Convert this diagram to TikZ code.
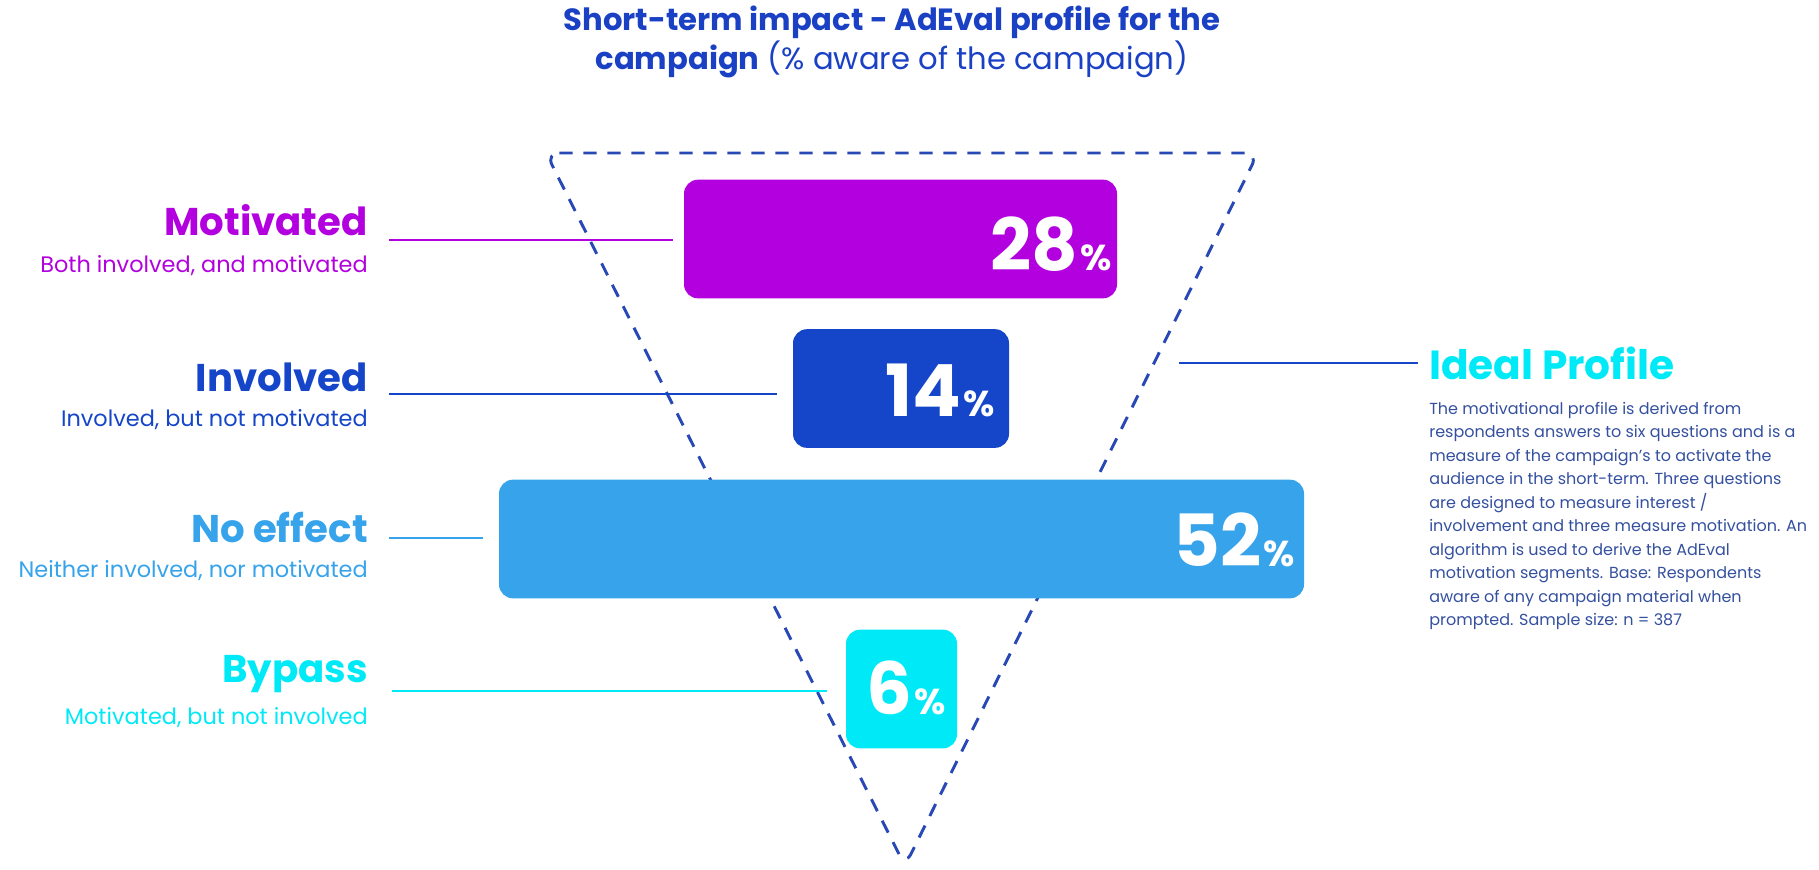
\documentclass[tikz,border=0pt]{standalone}
\usepackage{fontspec}
\setmainfont{Poppins}
\usetikzlibrary{calc}
\definecolor{motiv}{HTML}{B300DF}
\definecolor{invol}{HTML}{1545C8}
\definecolor{noeff}{HTML}{36A3EB}
\definecolor{bypas}{HTML}{00E9F6}
\definecolor{titleblue}{HTML}{1A40C4}
\definecolor{dashblue}{HTML}{2848B5}
\definecolor{bodyblue}{HTML}{34509F}
\newcommand{\pct}[1]{{\fontsize{54}{54}\selectfont\bfseries #1}\,{\fontsize{27}{27}\selectfont\bfseries\%}}
\begin{document}
\begin{tikzpicture}[x=0.75pt,y=-0.75pt,
  bar/.style={rounded corners=10.5pt, inner sep=0, minimum height=89pt},
  pcttext/.style={anchor=base east, inner sep=0, text=white},
  head/.style={anchor=east, inner sep=0, font=\fontsize{29}{29}\selectfont\bfseries},
  sub/.style={anchor=east, inner sep=0, font=\fontsize{16.8}{16.8}\selectfont},
  leader/.style={line width=2.1pt},
  funnel/.style={draw=dashblue, line width=2.2pt, dash pattern=on 10pt off 8pt, rounded corners=10pt}]
\useasboundingbox (0,0) rectangle (1819,869);

% title
\node[inner sep=0, text=titleblue, align=center, font=\fontsize{23}{29.5}\selectfont] (title) at (892,42)
  {\bfseries Short-term impact - AdEval profile for the\\
   {\bfseries campaign} (\% aware of the campaign)};

% dashed inverted funnel
\coordinate (ftl) at (546,153);
\coordinate (ftr) at (1258,153);
\coordinate (fbt) at (905,866);
\draw[funnel] (ftl) -- (ftr) -- (fbt) -- cycle;

% bars
\node[bar, fill=motiv, minimum width=324.75pt] (b28) at (900.5,239) {};
\node[bar, fill=invol, minimum width=162pt] (b14) at (901,388.5) {};
\node[bar, fill=noeff, minimum width=603.75pt] (b52) at (901.5,539) {};
\node[bar, fill=bypas, minimum width=83.25pt] (b6) at (901.5,689) {};

\node[pcttext] (t28) at ($(b28.south east)+(-5,-28)$) {\pct{28}};
\node[pcttext] (t14) at ($(b14.south east)+(-14,-32)$) {\pct{14}};
\node[pcttext] (t52) at ($(b52.south east)+(-9,-32)$) {\pct{52}};
\node[pcttext] (t6) at ($(b6.south east)+(-11,-34)$) {\pct{6}};

% left labels
\node[head, text=motiv] (hm) at (368,220) {Motivated};
\node[sub, text=motiv] (sm) at (368,266) {Both involved, and motivated};
\node[head, text=invol] (hi) at (368,377) {Involved};
\node[sub, text=invol] (si) at (368,420) {Involved, but not motivated};
\node[head, text=noeff] (hn) at (368,527) {No effect};
\node[sub, text=noeff] (sn) at (368,571) {Neither involved, nor motivated};
\node[head, text=bypas] (hb) at (368,674) {Bypass};
\node[sub, text=bypas] (sb) at (368,718) {Motivated, but not involved};

% leaders from labels to bars
\coordinate (lm) at (389,240);
\coordinate (li) at (389,394);
\coordinate (ln) at (389,538);
\coordinate (lb) at (392,691);
\draw[leader, motiv] (lm) -- ($(b28.west |- lm)+(-11,0)$);
\draw[leader, invol] (li) -- ($(b14.west |- li)+(-16,0)$);
\draw[leader, noeff] (ln) -- ($(b52.west |- ln)+(-16,0)$);
\draw[leader, bypas] (lb) -- ($(b6.west |- lb)+(-19,0)$);

% ideal profile note
\node[anchor=west, inner sep=0, text=bypas, font=\fontsize{30.5}{30.5}\selectfont\bfseries] (ideal) at (1429,363) {Ideal Profile};
\coordinate (lp) at (1179,363);
\draw[leader, invol] (lp) -- ($(ideal.west)+(-11,0)$);
\node[anchor=north west, inner sep=0, text=bodyblue, align=left, font=\fontsize{12}{17.6}\selectfont] (note) at (1429,402)
  {The motivational profile is derived from\\
   respondents answers to six questions and is a\\
   measure of the campaign’s to activate the\\
   audience in the short-term. Three questions\\
   are designed to measure interest /\\
   involvement and three measure motivation. An\\
   algorithm is used to derive the AdEval\\
   motivation segments. Base: Respondents\\
   aware of any campaign material when\\
   prompted. Sample size: n = 387};
\end{tikzpicture}
\end{document}
